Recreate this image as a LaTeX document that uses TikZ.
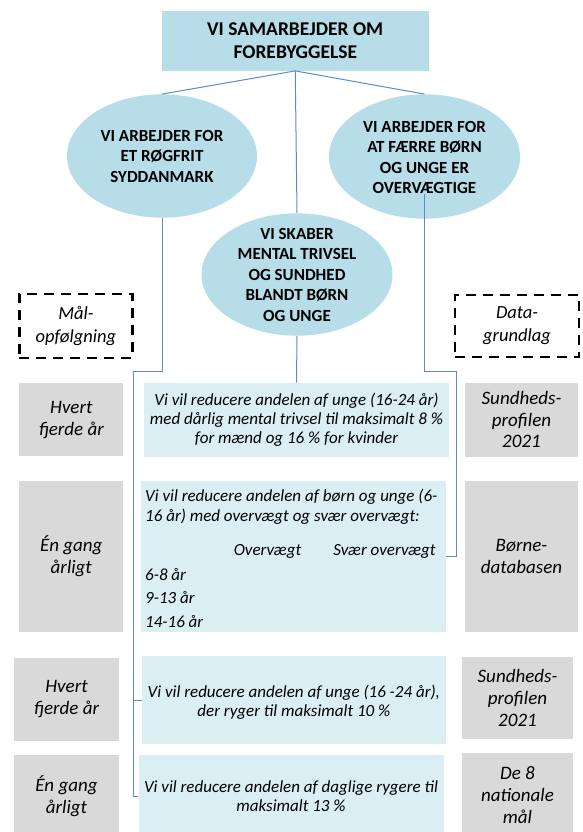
\documentclass[tikz,border=0pt]{standalone}
\usepackage{fontspec}
\setmainfont{Carlito}
\usetikzlibrary{shapes.geometric,calc}
\definecolor{ellc}{HTML}{B7DDE8}
\definecolor{lblue}{HTML}{DAEEF3}
\definecolor{gry}{HTML}{D9D9D9}
\definecolor{connc}{HTML}{5B8BCB}
\tikzset{
  topbox/.style={rectangle, fill=ellc, inner sep=0pt, align=center, font=\fontsize{19.5}{23}\selectfont\bfseries},
  ellbox/.style={ellipse, fill=ellc, inner sep=0pt},
  elltext/.style={inner sep=0pt, align=center, font=\fontsize{17}{20.5}\selectfont\bfseries},
  dashbox/.style={rectangle, draw=black, line width=2.6pt, dash pattern=on 10pt off 7pt, inner sep=0pt, align=center, font=\fontsize{18.5}{23}\selectfont\itshape},
  graybox/.style={rectangle, fill=gry, inner sep=0pt, align=center, font=\fontsize{19}{21.7}\selectfont\itshape},
  bluebox/.style={rectangle, fill=lblue, inner sep=0pt, align=center, font=\fontsize{17}{19}\selectfont\itshape},
  linetext/.style={inner sep=0pt, font=\fontsize{17}{19}\selectfont\itshape},
  conn/.style={draw=connc, line width=1pt}
}
\begin{document}
\begin{tikzpicture}[x=1pt,y=-1pt]
\useasboundingbox (0,0) rectangle (582,832);
\clip (0,0) rectangle (582,832);
% top
\node[topbox, minimum width=267.5pt, minimum height=59.7pt] (top) at (295.25,40.85) {VI SAMARBEJDER OM\\FOREBYGGELSE};
% ellipses
\node[ellbox, minimum width=190pt, minimum height=123.4pt] (le) at (162,156) {};
\node[elltext] (let) at (le) {VI ARBEJDER FOR\\ET RØGFRIT\\SYDDANMARK};
\node[ellbox, minimum width=191pt, minimum height=124.4pt] (re) at (424.5,156.5) {};
\node[elltext] (ret) at (424.5,157.7) {VI ARBEJDER FOR\\AT FÆRRE BØRN\\OG UNGE ER\\OVERVÆGTIGE};
\node[ellbox, minimum width=191pt, minimum height=122.4pt] (me) at (297,274.5) {};
\node[elltext] (met) at (me) {VI SKABER\\MENTAL TRIVSEL\\OG SUNDHED\\BLANDT BØRN\\OG UNGE};
% dashed headers
\node[dashbox, minimum width=113pt, minimum height=64pt] (mal) at (75.9,326) {Mål-\\opfølgning};
\node[dashbox, minimum width=124pt, minimum height=62pt] (data) at (517,326) {Data-\\grundlag};
% row 1
\node[graybox, minimum width=104pt, minimum height=73pt] (g1l) at (71.3,419.7) {Hvert\\fjerde år};
\node[bluebox, minimum width=305pt, minimum height=74pt] (b1) at (296.5,419.7) {Vi vil reducere andelen af unge (16-24 år)\\med dårlig mental trivsel til maksimalt 8 \%\\for mænd og 16 \% for kvinder};
\node[graybox, minimum width=113pt, minimum height=74pt] (g1r) at (521.5,419.7) {Sundheds-\\profilen\\2021};
% row 2
\node[graybox, minimum width=104pt, minimum height=151.6pt] (g2l) at (71.3,556.5) {Én gang\\årligt};
\node[bluebox, minimum width=305pt, minimum height=151.6pt] (b2) at (293.5,556.5) {};
\node[graybox, minimum width=113pt, minimum height=151.6pt] (g2r) at (521.5,556.5) {Børne-\\databasen};
\node[linetext, anchor=west] (t1) at (145,497) {Vi vil reducere andelen af børn og unge (6-};
\node[linetext, anchor=west] (t2) at (145,516.7) {16 år) med overvægt og svær overvægt:};
\node[linetext] (h1) at (267.5,551.7) {Overvægt};
\node[linetext] (h2) at (384.5,551.7) {Svær overvægt};
\node[linetext, anchor=west] (a1) at (145,575) {6-8 år};
\node[linetext, anchor=west] (a2) at (145,598) {9-13 år};
\node[linetext, anchor=west] (a3) at (145,621.7) {14-16 år};
% row 3
\node[graybox, minimum width=105pt, minimum height=83pt] (g3l) at (66.5,699.2) {Hvert\\fjerde år};
\node[bluebox, minimum width=304.3pt, minimum height=88.3pt] (b3) at (293.85,700.15) {};
\node[linetext, align=center] (b3t) at (293.85,702.5) {Vi vil reducere andelen af unge (16 -24 år),\\der ryger til maksimalt 10 \%};
\node[graybox, minimum width=111.6pt, minimum height=82.6pt] (g3r) at (517.5,698) {Sundheds-\\profilen\\2021};
% row 4
\node[graybox, minimum width=105pt, minimum height=82pt] (g4l) at (66.5,796) {Én gang\\årligt};
\node[bluebox, minimum width=305pt, minimum height=83pt] (b4) at (291,796.5) {Vi vil reducere andelen af daglige rygere til\\maksimalt 13 \%};
\node[graybox, minimum width=111.6pt, minimum height=84pt] (g4r) at (517.5,795) {De 8\\nationale\\mål};
% connectors
\coordinate (lk) at (133.3,371);
\coordinate (rk) at (456.6,371.7);
\draw[conn] (top.south) -- (le.north);
\draw[conn] (top.south) -- (re.north);
\draw[conn] (top.south) -- (me.north);
\draw[conn] (me.south) -- (b1.north);
\draw[conn] (le.south) |- (lk) |- (b4.west);
\draw[conn] (lk) |- (b3.west);
\draw[conn] ([yshift=25pt]re.south) |- (rk) |- (b2.east);
\end{tikzpicture}
\end{document}
